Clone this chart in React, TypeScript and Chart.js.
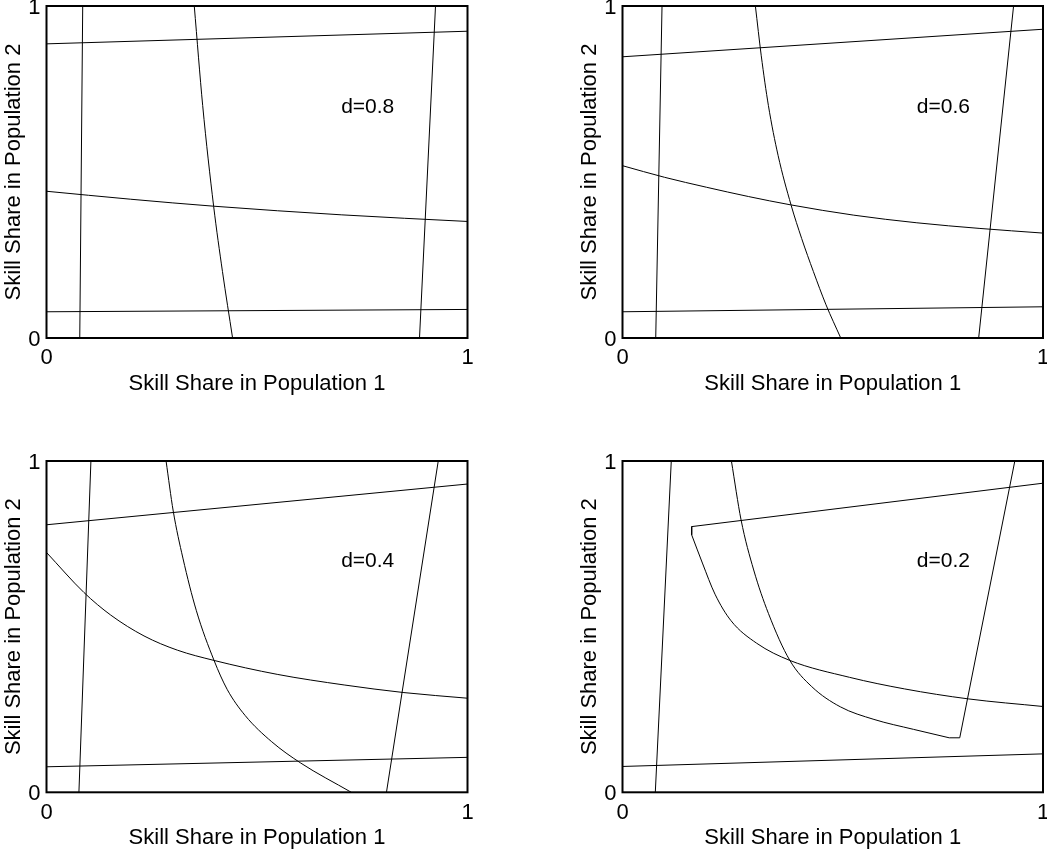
import React, { useEffect, useRef } from "react";
import { Chart, registerables } from "chart.js";
Chart.register(...registerables);

type Pt = [number, number];

// ---------- tick values & labels ----------
const xTickValues = [0, 1];
const yTickValues = [0, 1];
const xTitle = "Skill Share in Population 1";
const yTitle = "Skill Share in Population 2";
const panelLabels = ["d=0.8", "d=0.6", "d=0.4", "d=0.2"];

// ---------- d = 0.8 ----------
const d08Top: Pt[] = [[0, 0.886], [1, 0.924]];
const d08Left: Pt[] = [[0.086, 1], [0.079, 0]];
const d08Mid: Pt[] = [[0.351, 1], [0.371, 0.7], [0.397, 0.397], [0.418, 0.2], [0.442, 0]];
const d08Right: Pt[] = [[0.924, 1], [0.886, 0]];
const d08Cross: Pt[] = [[0, 0.442], [0.2, 0.418], [0.397, 0.397], [0.7, 0.371], [1, 0.351]];
const d08Bottom: Pt[] = [[0, 0.079], [1, 0.086]];

// ---------- d = 0.6 ----------
const d06Top: Pt[] = [[0, 0.847], [1, 0.93]];
const d06Left: Pt[] = [[0.094, 1], [0.079, 0]];
const d06Mid: Pt[] = [[0.316, 1], [0.33, 0.85], [0.347, 0.7], [0.37, 0.55], [0.401, 0.4], [0.426, 0.3], [0.454, 0.2], [0.484, 0.1], [0.519, 0]];
const d06Right: Pt[] = [[0.93, 1], [0.847, 0]];
const d06Cross: Pt[] = [[0, 0.519], [0.1, 0.484], [0.2, 0.454], [0.3, 0.426], [0.4, 0.401], [0.55, 0.37], [0.7, 0.347], [0.85, 0.33], [1, 0.316]];
const d06Bottom: Pt[] = [[0, 0.079], [1, 0.094]];

// ---------- d = 0.4 ----------
const d04Top: Pt[] = [[0, 0.8075], [1, 0.9305]];
const d04Left: Pt[] = [[0.1055, 1], [0.077, 0]];
const d04Mid: Pt[] = [[0.284, 1], [0.301, 0.849], [0.324, 0.707], [0.356, 0.548], [0.398, 0.398], [0.429, 0.311], [0.472, 0.2316], [0.535, 0.1525], [0.603, 0.089], [0.724, 0]];
const d04Right: Pt[] = [[0.8075, 0], [0.9305, 1]];
const d04Cross: Pt[] = [[0, 0.724], [0.089, 0.603], [0.1525, 0.535], [0.2316, 0.472], [0.311, 0.429], [0.398, 0.398], [0.548, 0.356], [0.707, 0.324], [0.849, 0.301], [1, 0.284]];
const d04Bottom: Pt[] = [[0, 0.077], [1, 0.1055]];

// ---------- d = 0.2 ----------
const d02Top: Pt[] = [[0.1645, 0.802], [1, 0.933]];
const d02Left: Pt[] = [[0.116, 1], [0.078, 0]];
const d02Mid: Pt[] = [[0.259, 1], [0.282, 0.822], [0.312, 0.671], [0.347, 0.54], [0.398, 0.398], [0.45, 0.319], [0.518, 0.258], [0.598, 0.22], [0.692, 0.19], [0.777, 0.1645]];
const d02Right: Pt[] = [[0.777, 0.1645], [0.802, 0.1645], [0.933, 1]];
const d02Notch: Pt[] = [[0.1645, 0.802], [0.1645, 0.777]];
const d02Cross: Pt[] = [[0.1645, 0.777], [0.19, 0.692], [0.22, 0.598], [0.258, 0.518], [0.319, 0.45], [0.398, 0.398], [0.54, 0.347], [0.671, 0.312], [0.822, 0.282], [1, 0.259]];
const d02Bottom: Pt[] = [[0, 0.078], [1, 0.116]];

type Curve = { pts: Pt[]; smooth: boolean };

const FONT = "'Liberation Sans', Arial, Helvetica, sans-serif";
const FS = 22;
const LABEL_FS = 21;

interface PanelProps {
  left: number;
  top: number;
  width: number;
  height: number;
  padTop: number;
  padRight: number;
  padBottom: number;
  yAxisWidth: number;
  xAxisHeight: number;
  curves: Curve[];
  label: string;
}

function Panel(p: PanelProps) {
  const ref = useRef<HTMLCanvasElement>(null);
  useEffect(() => {
    const font = { family: FONT, size: FS };
    const framePlugin = {
      id: "frameAndLabel",
      afterDraw(chart: any) {
        const { ctx, chartArea, scales } = chart;
        ctx.save();
        ctx.strokeStyle = "#000";
        ctx.lineWidth = 2;
        ctx.strokeRect(chartArea.left, chartArea.top, chartArea.right - chartArea.left, chartArea.bottom - chartArea.top);
        ctx.fillStyle = "#000";
        ctx.font = `${LABEL_FS}px ${FONT}`;
        ctx.textAlign = "center";
        ctx.textBaseline = "alphabetic";
        ctx.fillText(p.label, scales.x.getPixelForValue(0.763), scales.y.getPixelForValue(0.679));
        ctx.restore();
      },
    };
    const chart = new Chart(ref.current as HTMLCanvasElement, {
      type: "scatter",
      data: {
        datasets: p.curves.map((c) => ({
          data: c.pts.map(([x, y]) => ({ x, y })),
          showLine: true,
          borderColor: "#000",
          backgroundColor: "#000",
          borderWidth: 1,
          pointRadius: 0,
          tension: c.smooth ? 0.4 : 0,
          cubicInterpolationMode: c.smooth ? "monotone" : "default",
          fill: false,
        })),
      },
      options: {
        animation: false,
        responsive: false,
        maintainAspectRatio: false,
        events: [],
        layout: { padding: { top: p.padTop, right: p.padRight, bottom: p.padBottom, left: 0 } },
        plugins: { legend: { display: false }, tooltip: { enabled: false } },
        scales: {
          x: {
            type: "linear",
            min: 0,
            max: 1,
            grid: { display: false, drawTicks: false },
            border: { display: false },
            afterBuildTicks: (s: any) => {
              s.ticks = xTickValues.map((v) => ({ value: v }));
            },
            ticks: { padding: 7, color: "#000", font, maxRotation: 0, autoSkip: false },
            title: { display: true, text: xTitle, color: "#000", font, padding: 0 },
            afterFit: (s: any) => {
              s.height = p.xAxisHeight;
              s.paddingLeft = 0;
              s.paddingRight = 0;
            },
          },
          y: {
            type: "linear",
            min: 0,
            max: 1,
            grid: { display: false, drawTicks: false },
            border: { display: false },
            afterBuildTicks: (s: any) => {
              s.ticks = yTickValues.map((v) => ({ value: v }));
            },
            ticks: { padding: 6, color: "#000", font, autoSkip: false, labelOffset: 2 },
            title: { display: true, text: yTitle, color: "#000", font, padding: { top: 1, bottom: 0 } },
            afterFit: (s: any) => {
              s.width = p.yAxisWidth;
              s.paddingTop = 0;
              s.paddingBottom = 0;
            },
          },
        },
      } as any,
      plugins: [framePlugin],
    });
    return () => chart.destroy();
  }, []);
  return (
    <div style={{ position: "absolute", left: p.left, top: p.top, width: p.width, height: p.height }}>
      <canvas ref={ref} width={p.width} height={p.height} style={{ width: p.width, height: p.height, display: "block" }} />
    </div>
  );
}

const S = (pts: Pt[]): Curve => ({ pts, smooth: false });
const C = (pts: Pt[]): Curve => ({ pts, smooth: true });

export default function App() {
  const xAxisH = 59;
  return (
    <div style={{ position: "absolute", left: 0, top: 0, width: 1047, height: 852 }}>
      <Panel left={0} top={0} width={523} height={426} padTop={6} padRight={55.5} padBottom={426 - 6 - 332 - xAxisH} yAxisWidth={46.5} xAxisHeight={xAxisH}
        curves={[S(d08Top), S(d08Left), C(d08Mid), S(d08Right), C(d08Cross), S(d08Bottom)]} label={panelLabels[0]} />
      <Panel left={576} top={0} width={471} height={426} padTop={6} padRight={4} padBottom={426 - 6 - 332 - xAxisH} yAxisWidth={46.5} xAxisHeight={xAxisH}
        curves={[S(d06Top), S(d06Left), C(d06Mid), S(d06Right), C(d06Cross), S(d06Bottom)]} label={panelLabels[1]} />
      <Panel left={0} top={454} width={523} height={398} padTop={7} padRight={55.5} padBottom={Math.max(0, 398 - 7 - 331.3 - xAxisH)} yAxisWidth={46.5} xAxisHeight={xAxisH}
        curves={[S(d04Top), S(d04Left), C(d04Mid), S(d04Right), C(d04Cross), S(d04Bottom)]} label={panelLabels[2]} />
      <Panel left={576} top={454} width={471} height={398} padTop={7} padRight={4} padBottom={Math.max(0, 398 - 7 - 331.3 - xAxisH)} yAxisWidth={46.5} xAxisHeight={xAxisH}
        curves={[S(d02Top), S(d02Left), C(d02Mid), S(d02Right), S(d02Notch), C(d02Cross), S(d02Bottom)]} label={panelLabels[3]} />
    </div>
  );
}
